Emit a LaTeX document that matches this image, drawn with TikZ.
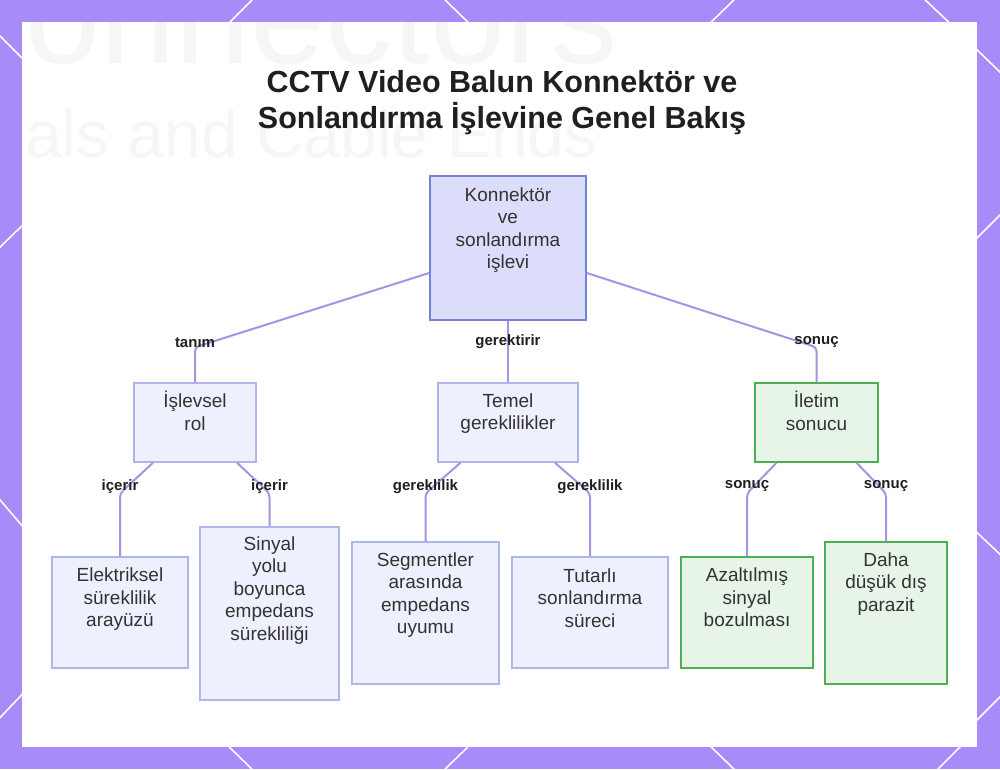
\documentclass[tikz,border=0pt]{standalone}
\usepackage{fontspec}
\setmainfont{Liberation Sans}
\definecolor{bgpurple}{HTML}{A78BF8}
\definecolor{edgec}{HTML}{A593E4}
\definecolor{rootfill}{HTML}{DCDDFB}
\definecolor{rootdraw}{HTML}{7682D4}
\definecolor{bfill}{HTML}{EEF0FD}
\definecolor{bdraw}{HTML}{AEB6EC}
\definecolor{gfill}{HTML}{E6F5E7}
\definecolor{gdraw}{HTML}{4CAF50}
\definecolor{txtc}{HTML}{333333}
\definecolor{titlec}{HTML}{1F1F1F}
\tikzset{
  boxr/.style={draw=rootdraw, fill=rootfill, line width=1.8pt, inner sep=0pt},
  boxb/.style={draw=bdraw, fill=bfill, line width=1.5pt, inner sep=0pt},
  boxg/.style={draw=gdraw, fill=gfill, line width=1.5pt, inner sep=0pt},
  txtn/.style={anchor=north, inner sep=0pt, align=center, text=txtc, font=\fontsize{19}{22.5}\selectfont},
  lbl/.style={inner sep=0pt, text=black!88, font=\bfseries\fontsize{15}{18}\selectfont},
  edge/.style={draw=edgec, line width=2pt, rounded corners=4pt},
  deco/.style={draw=white, line width=1.6pt},
  ghost/.style={anchor=base west, inner sep=0pt, text=black!3.5}
}
\begin{document}
\begin{tikzpicture}[x=1pt,y=-1pt]
\useasboundingbox (0,0) rectangle (1000,769);
% background
\fill[bgpurple] (0,0) rectangle (1000,769);
% decorative lines
\draw[deco] (257,-5) -- (222,30);
\draw[deco] (440,-5) -- (476,30);
\draw[deco] (739,-5) -- (703,30);
\draw[deco] (920,-5) -- (957,30);
\draw[deco] (221,739) -- (257,774);
\draw[deco] (476,739) -- (440,774);
\draw[deco] (703,739) -- (739,774);
\draw[deco] (968,739) -- (933,774);
\draw[deco] (-5,31) -- (30,66);
\draw[deco] (-5,252) -- (30,218);
\draw[deco] (-5,494) -- (30,535);
\draw[deco] (-5,723) -- (30,686);
\draw[deco] (969,42) -- (1005,77);
\draw[deco] (969,246) -- (1005,210);
\draw[deco] (969,525) -- (1005,559);
\draw[deco] (969,728) -- (1005,692);
% panel
\fill[white] (22,22) rectangle (977,747);
\begin{scope}
\clip (22,22) rectangle (977,747);
\node[ghost, font=\fontsize{135}{135}\selectfont] (gh1) at (25,63) {onnectors};
\node[ghost, font=\fontsize{66}{66}\selectfont] (gh2) at (25,157) {als and Cable Ends};
\end{scope}
% title
\node[anchor=north, inner sep=0pt, align=center, text=titlec, font=\bfseries\fontsize{30.5}{32}\selectfont] (title) at (502,69.6)
  {\strut CCTV Video Balun Konnektör ve\\Sonlandırma İşlevine Genel Bakış};
% boxes
\node[boxr, minimum width=156pt, minimum height=144pt] (root) at (508,248) {};
\node[boxb, minimum width=122pt, minimum height=79pt] (isl) at (195,422.5) {};
\node[boxb, minimum width=140pt, minimum height=79pt] (tem) at (508,422.5) {};
\node[boxg, minimum width=123pt, minimum height=79pt] (ilt) at (816.5,422.5) {};
\node[boxb, minimum width=136pt, minimum height=111pt] (ele) at (120,612.5) {};
\node[boxb, minimum width=139pt, minimum height=173pt] (sin) at (269.5,613.5) {};
\node[boxb, minimum width=147pt, minimum height=142pt] (seg) at (425.5,613) {};
\node[boxb, minimum width=156pt, minimum height=111pt] (tut) at (590,612.5) {};
\node[boxg, minimum width=132pt, minimum height=111pt] (aza) at (747,612.5) {};
\node[boxg, minimum width=122pt, minimum height=142pt] (dah) at (886,613) {};
% texts
\node[txtn] (roott) at ([yshift=-10pt]root.north) {\strut Konnektör\\ve\\sonlandırma\\işlevi};
\node[txtn] (islt) at ([yshift=-9pt]isl.north) {\strut İşlevsel\\rol};
\node[txtn] (temt) at ([yshift=-9pt]tem.north) {\strut Temel\\gereklilikler};
\node[txtn] (iltt) at ([yshift=-9pt]ilt.north) {\strut İletim\\sonucu};
\node[txtn] (elet) at ([yshift=-9.5pt]ele.north) {\strut Elektriksel\\süreklilik\\arayüzü};
\node[txtn] (sint) at ([yshift=-8pt]sin.north) {\strut Sinyal\\yolu\\boyunca\\empedans\\sürekliliği};
\node[txtn] (segt) at ([yshift=-9pt]seg.north) {\strut Segmentler\\arasında\\empedans\\uyumu};
\node[txtn] (tutt) at ([yshift=-10pt]tut.north) {\strut Tutarlı\\sonlandırma\\süreci};
\node[txtn] (azat) at ([yshift=-9.5pt]aza.north) {\strut Azaltılmış\\sinyal\\bozulması};
\node[txtn] (daht) at ([yshift=-9pt]dah.north) {\strut Daha\\düşük dış\\parazit};
% edges
\draw[edge] ([yshift=-25pt]root.west) -- ([yshift=35pt]isl.north) -- (isl.north);
\draw[edge] (root.south) -- (tem.north);
\draw[edge] ([yshift=-25pt]root.east) -- ([yshift=35pt]ilt.north) -- (ilt.north);
\draw[edge] ([xshift=-42pt]isl.south) -- ([yshift=63pt]ele.north) -- (ele.north);
\draw[edge] ([xshift=42pt]isl.south) -- ([yshift=33pt]sin.north) -- (sin.north);
\draw[edge] ([xshift=-47.5pt]tem.south) -- ([yshift=48pt]seg.north) -- (seg.north);
\draw[edge] ([xshift=47pt]tem.south) -- ([yshift=63pt]tut.north) -- (tut.north);
\draw[edge] ([xshift=-40pt]ilt.south) -- ([yshift=63pt]aza.north) -- (aza.north);
\draw[edge] ([xshift=40pt]ilt.south) -- ([yshift=48pt]dah.north) -- (dah.north);
% labels
\node[lbl] (l1) at ([yshift=40pt]isl.north) {tanım};
\node[lbl] (l2) at ([yshift=41pt]tem.north) {gerektirir};
\node[lbl] (l3) at ([yshift=40pt]ilt.north) {sonuç};
\node[lbl] (l4) at ([yshift=70pt]ele.north) {içerir};
\node[lbl] (l5) at ([yshift=40pt]sin.north) {içerir};
\node[lbl] (l6) at ([yshift=55pt]seg.north) {gereklilik};
\node[lbl] (l7) at ([yshift=70pt]tut.north) {gereklilik};
\node[lbl] (l8) at ([yshift=70pt]aza.north) {sonuç};
\node[lbl] (l9) at ([yshift=55pt]dah.north) {sonuç};
\end{tikzpicture}
\end{document}
